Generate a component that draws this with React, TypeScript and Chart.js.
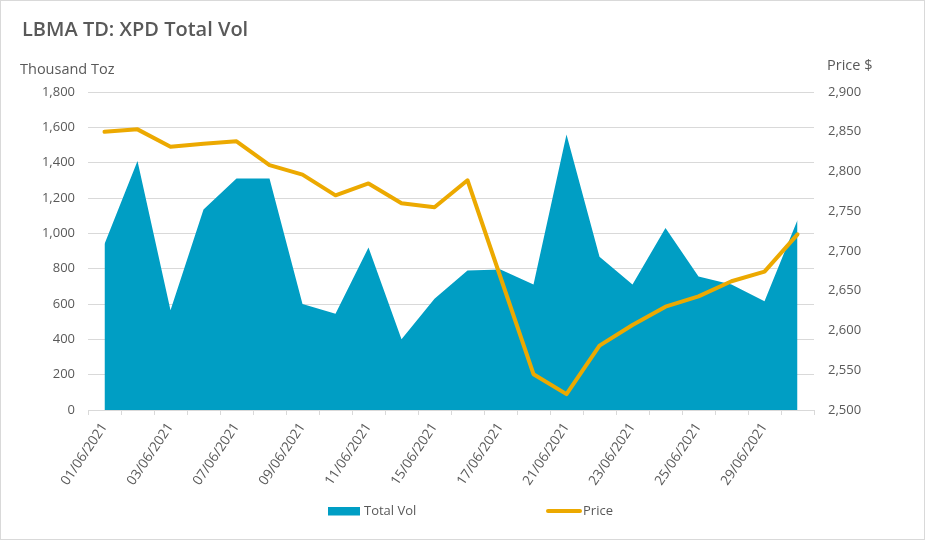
import React, { useEffect, useRef } from 'react';
import { Chart, registerables } from 'chart.js';

Chart.register(...registerables);

const categories = [
  '01/06/2021', '02/06/2021', '03/06/2021', '04/06/2021', '07/06/2021', '08/06/2021',
  '09/06/2021', '10/06/2021', '11/06/2021', '14/06/2021', '15/06/2021', '16/06/2021',
  '17/06/2021', '18/06/2021', '21/06/2021', '22/06/2021', '23/06/2021', '24/06/2021',
  '25/06/2021', '28/06/2021', '29/06/2021', '30/06/2021',
];
const totalVol = [940, 1410, 565, 1135, 1310, 1310, 600, 545, 920, 400, 630, 790, 795, 710, 1560, 868, 710, 1030, 755, 710, 615, 1075];
const price = [2850, 2853, 2831, 2835, 2838, 2808, 2796, 2770, 2785, 2760, 2755, 2789, 2667, 2545, 2520, 2581, 2607, 2630, 2643, 2662, 2674, 2721];

const volAxis = { min: 0, max: 1800, step: 200 };
const priceAxis = { min: 2500, max: 2900, step: 50 };

const titleText = 'LBMA TD: XPD Total Vol';
const leftAxisTitle = 'Thousand Toz';
const rightAxisTitle = 'Price $';

const VOL_COLOR = '#009EC4';
const PRICE_COLOR = '#ECA900';
const TEXT_COLOR = '#595959';
const GRID_COLOR = '#D9D9D9';
const FONT = '"Open Sans", "Noto Sans", sans-serif';

const decorPlugin = {
  id: 'decor',
  beforeDraw(chart: any) {
    const { ctx, width, height } = chart;
    ctx.save();
    ctx.fillStyle = '#FFFFFF';
    ctx.fillRect(0, 0, width, height);
    ctx.strokeStyle = GRID_COLOR;
    ctx.lineWidth = 1;
    ctx.strokeRect(0.5, 0.5, width - 1, height - 1);
    ctx.restore();
  },
  afterDraw(chart: any) {
    const { ctx } = chart;
    ctx.save();
    ctx.fillStyle = TEXT_COLOR;
    ctx.textBaseline = 'middle';
    ctx.textAlign = 'left';
    ctx.font = `600 20px ${FONT}`;
    ctx.fillText(titleText, 22, 30);
    ctx.font = `14.5px ${FONT}`;
    ctx.fillText(leftAxisTitle, 20, 70);
    ctx.fillText(rightAxisTitle, 827, 66);

    // legend
    const ds = chart.data.datasets;
    ctx.font = `13px ${FONT}`;
    ctx.fillStyle = ds[0].backgroundColor;
    ctx.fillRect(328, 507, 32, 8.5);
    ctx.fillStyle = TEXT_COLOR;
    ctx.fillText(ds[0].label, 364, 511.5);
    ctx.strokeStyle = ds[1].borderColor;
    ctx.lineWidth = 4;
    ctx.lineCap = 'round';
    ctx.beginPath();
    ctx.moveTo(548, 511);
    ctx.lineTo(580, 511);
    ctx.stroke();
    ctx.fillStyle = TEXT_COLOR;
    ctx.fillText(ds[1].label, 583, 511.5);
    ctx.restore();
  },
};

export default function App() {
  const ref = useRef<HTMLCanvasElement | null>(null);

  useEffect(() => {
    if (!ref.current) return;
    const chart = new Chart(ref.current, {
      type: 'line',
      data: {
        labels: categories,
        datasets: [
          {
            label: 'Total Vol',
            data: totalVol,
            yAxisID: 'y',
            fill: 'origin',
            backgroundColor: VOL_COLOR,
            borderColor: VOL_COLOR,
            borderWidth: 0,
            pointRadius: 0,
            tension: 0,
            order: 2,
          },
          {
            label: 'Price',
            data: price,
            yAxisID: 'y1',
            fill: false,
            borderColor: PRICE_COLOR,
            backgroundColor: PRICE_COLOR,
            borderWidth: 4,
            pointRadius: 0,
            tension: 0,
            borderJoinStyle: 'round',
            borderCapStyle: 'round',
            order: 1,
          },
        ],
      },
      options: {
        responsive: false,
        animation: false,
        events: [],
        layout: { padding: { top: 92, left: 0, right: 0, bottom: 0 } },
        plugins: {
          legend: { display: false },
          title: { display: false },
          tooltip: { enabled: false },
        },
        scales: {
          x: {
            offset: true,
            grid: {
              offset: true,
              drawOnChartArea: false,
              drawTicks: true,
              tickLength: 5,
              color: GRID_COLOR,
            },
            border: { display: true, color: GRID_COLOR },
            ticks: {
              autoSkip: false,
              minRotation: 56,
              maxRotation: 56,
              color: TEXT_COLOR,
              font: { family: FONT, size: 13.5 },
              padding: 5,
              callback: (_v: any, i: number) => (i % 2 === 0 ? categories[i] : ''),
            },
            afterFit: (scale: any) => {
              scale.height = 130;
            },
          },
          y: {
            position: 'left',
            min: volAxis.min,
            max: volAxis.max,
            grid: { color: GRID_COLOR, drawTicks: false },
            border: { display: false },
            ticks: {
              stepSize: volAxis.step,
              padding: 13,
              color: TEXT_COLOR,
              font: { family: FONT, size: 13 },
              callback: (v: any) => Number(v).toLocaleString('en-US'),
            },
            afterFit: (scale: any) => {
              scale.width = 88;
            },
          },
          y1: {
            position: 'right',
            min: priceAxis.min,
            max: priceAxis.max,
            grid: { drawOnChartArea: false, drawTicks: false },
            border: { display: false },
            ticks: {
              stepSize: priceAxis.step,
              padding: 14,
              color: TEXT_COLOR,
              font: { family: FONT, size: 13 },
              callback: (v: any) => Number(v).toLocaleString('en-US'),
            },
            afterFit: (scale: any) => {
              scale.width = 111;
            },
          },
        },
      },
      plugins: [decorPlugin],
    });
    return () => chart.destroy();
  }, []);

  return (
    <div style={{ position: 'absolute', left: 0, top: 0, width: 925, height: 540 }}>
      <canvas ref={ref} width={925} height={540} style={{ width: 925, height: 540, display: 'block' }} />
    </div>
  );
}
